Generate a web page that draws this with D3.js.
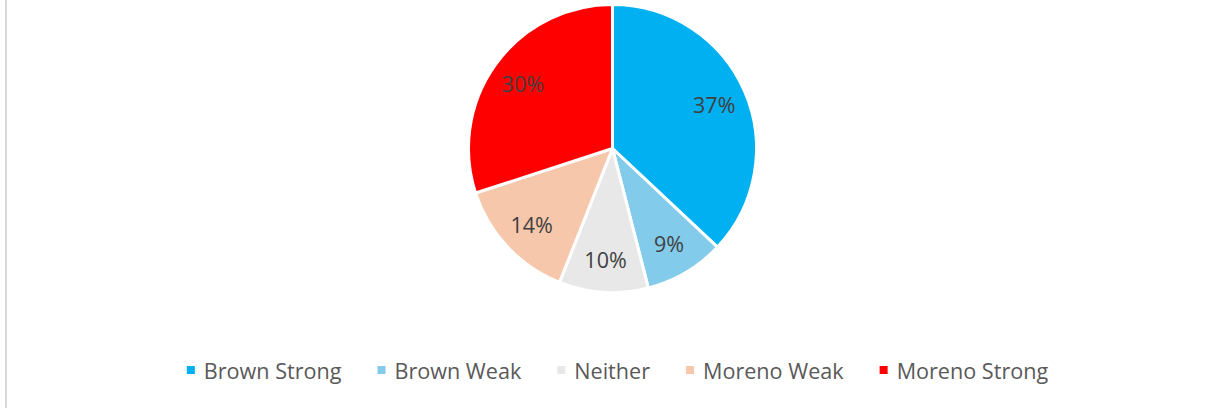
<!DOCTYPE html>
<html>
<head>
<meta charset="utf-8">
<script src="https://cdn.jsdelivr.net/npm/d3@7"></script>
<style>
  html, body { margin: 0; padding: 0; background: #fff; }
  svg { display: block; }
  text { font-family: "Open Sans", "Liberation Sans", sans-serif; }
</style>
</head>
<body>
<svg id="chart" width="1216" height="408"></svg>
<script>
const categories = ["Brown Strong", "Brown Weak", "Neither", "Moreno Weak", "Moreno Strong"];
const values = [37, 9, 10, 14, 30];
const colors = ["#00B0F0", "#83CBEB", "#E8E8E8", "#F7C7AC", "#FF0000"];

const svg = d3.select("#chart");
const W = 1216, H = 408;

// left border line
svg.append("line")
  .attr("x1", 6).attr("x2", 6).attr("y1", 0).attr("y2", H)
  .attr("stroke", "#D9D9D9").attr("stroke-width", 2);

const cx = 612.5, cy = 148.5, R = 144;
const data = categories.map((c, i) => ({ cat: c, value: values[i], color: colors[i] }));

const pie = d3.pie().value(d => d.value).sort(null);
const arcs = pie(data);
const arc = d3.arc().innerRadius(0).outerRadius(R);
const labelArc = d3.arc().innerRadius(R * 0.77).outerRadius(R * 0.77);

const g = svg.append("g").attr("transform", `translate(${cx},${cy})`);
g.selectAll("path.slice").data(arcs).enter().append("path")
  .attr("class", "slice")
  .attr("d", arc)
  .attr("fill", d => d.data.color)
  .attr("stroke", "#fff")
  .attr("stroke-width", 3)
  .attr("stroke-linejoin", "round");

const total = d3.sum(values);
g.selectAll("text.lbl").data(arcs).enter().append("text")
  .attr("class", "lbl")
  .attr("transform", d => `translate(${labelArc.centroid(d)})`)
  .attr("text-anchor", "middle")
  .attr("dominant-baseline", "central")
  .attr("font-size", 21.5)
  .attr("fill", "#404040")
  .text(d => Math.round(d.data.value / total * 100) + "%");

// legend
const legendY = 370;
const lg = svg.append("g");
const items = lg.selectAll("g.item").data(data).enter().append("g").attr("class", "item");
items.append("rect").attr("width", 8).attr("height", 8).attr("y", legendY - 4)
  .attr("fill", d => d.color);
items.append("text").attr("x", 17).attr("y", legendY)
  .attr("dominant-baseline", "central")
  .attr("font-size", 21.6).attr("fill", "#595959")
  .text(d => d.cat);
let x = 0;
const gap = 36;
items.each(function() {
  const node = d3.select(this);
  const tw = node.select("text").node().getComputedTextLength();
  node.attr("transform", `translate(${x},0)`);
  x += 17 + tw + gap;
});
const totalW = x - gap;
lg.attr("transform", `translate(${617.5 - totalW / 2},0)`);
</script>
</body>
</html>
